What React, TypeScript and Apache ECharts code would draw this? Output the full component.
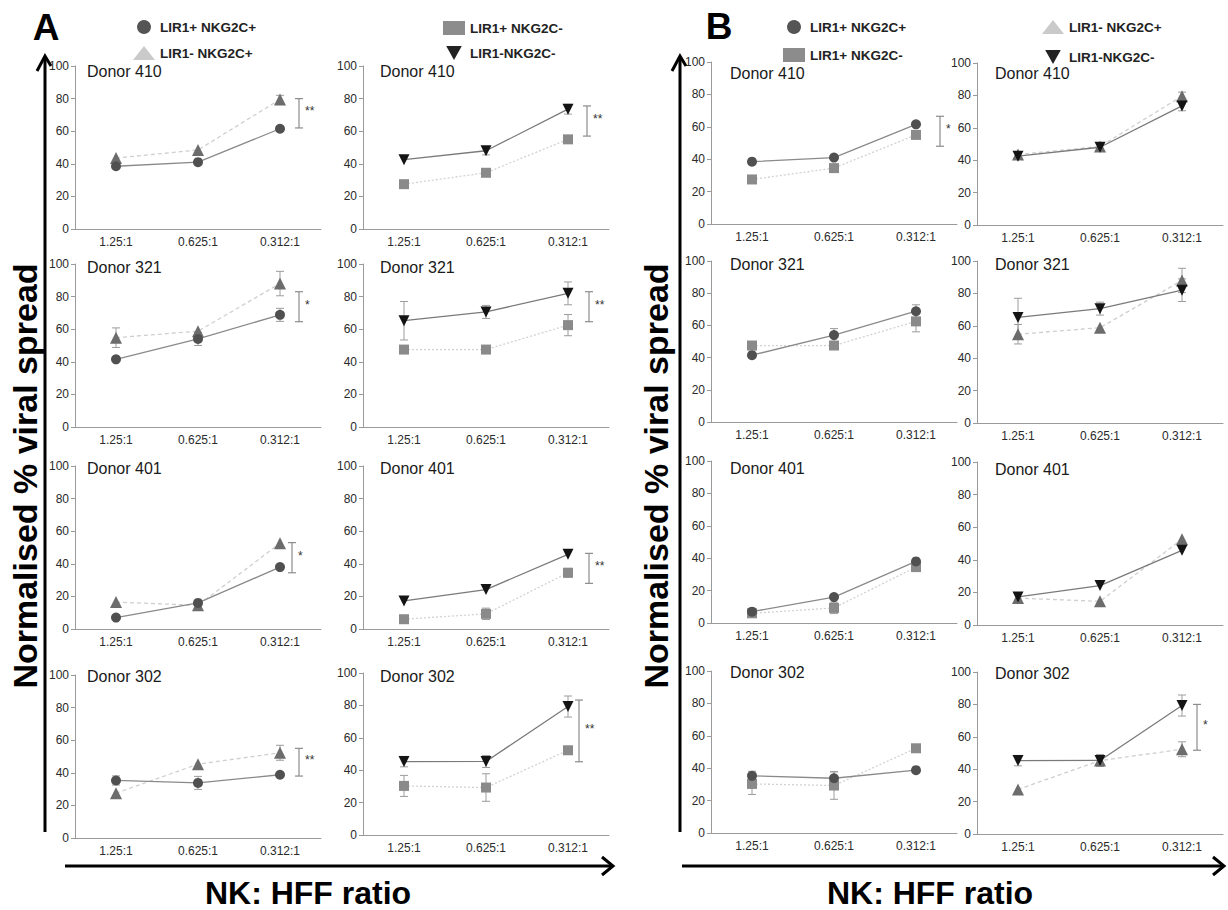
import React, { useEffect, useRef } from 'react';
import * as echarts from 'echarts';

// ---------------- data ----------------
const ratios = ['1.25:1', '0.625:1', '0.312:1'];
const donors = ['Donor 410', 'Donor 321', 'Donor 401', 'Donor 302'];

// rows = donors (410, 321, 401, 302), columns = ratios
const lir1PosNkg2cPos = [
  [38.5, 41, 61.5],
  [41.5, 54, 68.8],
  [7, 16, 38],
  [35.3, 33.8, 38.8],
];
const lir1PosNkg2cPosErr = [
  [0, 0, 0],
  [0, 4, 4],
  [0, 0, 0],
  [2.8, 4, 0],
];
const lir1NegNkg2cPos = [
  [43.5, 48.5, 79.5],
  [54.8, 58.8, 88],
  [16.5, 14.5, 52.6],
  [27.5, 45.3, 52.3],
];
const lir1NegNkg2cPosErr = [
  [0, 0, 2.5],
  [6, 0, 7.5],
  [0, 0, 0],
  [0, 0, 4.6],
];
const lir1PosNkg2cNeg = [
  [27.5, 34.5, 55],
  [47.5, 47.5, 62.5],
  [6, 9.3, 34.5],
  [30.3, 29.3, 52.3],
];
const lir1PosNkg2cNegErr = [
  [0, 0, 0],
  [0, 0, 6.5],
  [0, 3.5, 2.7],
  [6.5, 8.5, 0],
];
const lir1NegNkg2cNeg = [
  [42.5, 48, 73.5],
  [65.2, 70.6, 82],
  [17.2, 24.2, 45.8],
  [45.3, 45.4, 79.3],
];
const lir1NegNkg2cNegErr = [
  [0, 2.5, 3],
  [11.8, 4, 7],
  [0, 0, 0],
  [3.2, 3.7, 6.5],
];

// significance brackets per panel column: [low, high, label] or null
const sigA1: ([number, number, string] | null)[] = [[62, 80, '**'], [64.6, 83, '*'], [34.5, 53, '*'], [38, 55, '**']];
const sigA2: ([number, number, string] | null)[] = [[57, 75.5, '**'], [64.6, 83, '**'], [28, 46.4, '**'], [45.2, 83.3, '**']];
const sigB1: ([number, number, string] | null)[] = [[48, 66.5, '*'], null, null, null];
const sigB2: ([number, number, string] | null)[] = [null, null, null, [51.7, 80, '*']];

const yTicks = [0, 20, 40, 60, 80, 100];

// ---------------- styles / layout ----------------
const FONT = 'Liberation Sans, Arial, Helvetica, sans-serif';
const DOWN_TRI = 'path://M0,0L10,0L5,9Z';

const POPS: Record<string, any> = {
  pp: { name: 'LIR1+ NKG2C+', values: lir1PosNkg2cPos, err: lir1PosNkg2cPosErr, symbol: 'circle', size: 10, color: '#505050', line: '#8a8a8a', type: 'solid', legendIcon: 'circle', legendColor: '#555555' },
  mp: { name: 'LIR1- NKG2C+', values: lir1NegNkg2cPos, err: lir1NegNkg2cPosErr, symbol: 'triangle', size: 12, color: '#6c6c6c', line: '#cfcfcf', type: [4, 3], legendIcon: 'triangle', legendColor: '#cacaca' },
  pm: { name: 'LIR1+ NKG2C-', values: lir1PosNkg2cNeg, err: lir1PosNkg2cNegErr, symbol: 'rect', size: 10, color: '#8a8a8a', line: '#d2d2d2', type: [2, 2], legendIcon: 'rect', legendColor: '#8c8c8c' },
  mm: { name: 'LIR1-NKG2C-', values: lir1NegNkg2cNeg, err: lir1NegNkg2cNegErr, symbol: DOWN_TRI, size: 11, color: '#141414', line: '#7a7a7a', type: 'solid', legendIcon: DOWN_TRI, legendColor: '#222222' },
};

const COLS = [
  { left: 75, pops: ['mp', 'pp'], tops: [66, 264, 466, 675], heights: [163, 163, 163, 163], titleDx: 12, titleDy: [6, 4, 3, 2], sig: sigA1, sigDx: [19, 19, 12, 19] },
  { left: 363, pops: ['pm', 'mm'], tops: [66, 264, 466, 673], heights: [163, 163, 163, 162], titleDx: 17, titleDy: [6, 4, 3, 4], sig: sigA2, sigDx: [19, 21, 21, 11] },
  { left: 711, pops: ['pm', 'pp'], tops: [62, 261, 461, 671], heights: [162, 161, 162, 162], titleDx: 19, titleDy: [12, 4, 8, 2], sig: sigB1, sigDx: [24, 0, 0, 0] },
  { left: 977, pops: ['mp', 'mm'], tops: [63, 261, 462, 672], heights: [162, 162, 163, 162], titleDx: 18, titleDy: [11, 4, 8, 2], sig: sigB2, sigDx: [0, 0, 0, 15] },
];
const GRID_W = 246;

function errRender(params: any, api: any) {
  const c = api.value(0);
  const lo = api.coord([c, api.value(1)]);
  const hi = api.coord([c, api.value(2)]);
  const w = 4;
  const st = { stroke: '#9c9c9c', lineWidth: 1 };
  return {
    type: 'group',
    children: [
      { type: 'line', shape: { x1: lo[0], y1: lo[1], x2: hi[0], y2: hi[1] }, style: st },
      { type: 'line', shape: { x1: lo[0] - w, y1: lo[1], x2: lo[0] + w, y2: lo[1] }, style: st },
      { type: 'line', shape: { x1: hi[0] - w, y1: hi[1], x2: hi[0] + w, y2: hi[1] }, style: st },
    ],
  };
}

function makeSigRender(dx: number, label: string) {
  return (params: any, api: any) => {
    const lo = api.coord([api.value(0), api.value(1)]);
    const hi = api.coord([api.value(0), api.value(2)]);
    const x = lo[0] + dx;
    const w = 4;
    const st = { stroke: '#8c8c8c', lineWidth: 1.2 };
    return {
      type: 'group',
      children: [
        { type: 'line', shape: { x1: x, y1: lo[1], x2: x, y2: hi[1] }, style: st },
        { type: 'line', shape: { x1: x - w, y1: lo[1], x2: x + w, y2: lo[1] }, style: st },
        { type: 'line', shape: { x1: x - w, y1: hi[1], x2: x + w, y2: hi[1] }, style: st },
        {
          type: 'text',
          x: x + 6,
          y: (lo[1] + hi[1]) / 2 - 2,
          style: { text: label, fill: '#333', fontSize: 12, fontFamily: FONT, align: 'left', verticalAlign: 'middle' },
        },
      ],
    };
  };
}

function buildOption() {
  const grid: any[] = [];
  const xAxis: any[] = [];
  const yAxis: any[] = [];
  const series: any[] = [];
  const title: any[] = [];

  COLS.forEach((col) => {
    donors.forEach((donor, r) => {
      const gi = grid.length;
      grid.push({ left: col.left, top: col.tops[r], width: GRID_W, height: col.heights[r], containLabel: false });
      xAxis.push({
        type: 'category',
        gridIndex: gi,
        data: ratios,
        boundaryGap: true,
        axisLine: { lineStyle: { color: '#9a9a9a', width: 1 } },
        axisTick: { show: false },
        axisLabel: { color: '#2a2a2a', fontSize: 12, fontFamily: FONT, margin: 7 },
        splitLine: { show: false },
      });
      yAxis.push({
        type: 'value',
        gridIndex: gi,
        min: yTicks[0],
        max: yTicks[yTicks.length - 1],
        interval: yTicks[1] - yTicks[0],
        axisLine: { show: true, lineStyle: { color: '#9a9a9a', width: 1 } },
        axisTick: { show: true, length: 4, lineStyle: { color: '#9a9a9a' } },
        axisLabel: { color: '#2a2a2a', fontSize: 12, fontFamily: FONT, margin: 6 },
        splitLine: { show: false },
      });
      title.push({
        text: donor,
        left: col.left + col.titleDx,
        top: col.tops[r] + col.titleDy[r] - 9,
        padding: 0,
        textStyle: { fontSize: 16, fontWeight: 'normal', color: '#1a1a1a', fontFamily: FONT },
      });

      col.pops.forEach((pk, li) => {
        const p = POPS[pk];
        const errData: number[][] = [];
        p.values[r].forEach((v: number, i: number) => {
          const e = p.err[r][i];
          if (e > 0) errData.push([i, v - e, v + e]);
        });
        if (errData.length) {
          series.push({
            type: 'custom',
            name: p.name + ' error',
            xAxisIndex: gi,
            yAxisIndex: gi,
            renderItem: errRender,
            encode: { x: 0, y: [1, 2] },
            data: errData,
            z: 1,
            silent: true,
          });
        }
        series.push({
          type: 'line',
          name: p.name,
          xAxisIndex: gi,
          yAxisIndex: gi,
          data: p.values[r],
          symbol: p.symbol,
          symbolSize: p.size,
          showAllSymbol: true,
          itemStyle: { color: p.color, borderWidth: 0 },
          lineStyle: { color: p.line, width: 1.3, type: p.type },
          z: 3 + li,
        });
      });

      const sig = col.sig[r];
      if (sig) {
        series.push({
          type: 'custom',
          name: 'significance',
          xAxisIndex: gi,
          yAxisIndex: gi,
          renderItem: makeSigRender(col.sigDx[r], sig[2]),
          encode: { x: 0, y: [1, 2] },
          data: [[ratios.length - 1, sig[0], sig[1]]],
          clip: false,
          z: 2,
          silent: true,
        });
      }
    });
  });

  const legendText = { fontSize: 13.5, fontWeight: 'bold', color: '#222', fontFamily: FONT };
  const mkLegend = (left: number, top: number, gap: number, keys: string[]) => ({
    left,
    top,
    orient: 'vertical',
    itemGap: gap,
    itemWidth: 22,
    itemHeight: 14,
    padding: 0,
    selectedMode: false,
    textStyle: legendText,
    data: keys.map((k) => ({ name: POPS[k].name, icon: POPS[k].legendIcon, itemStyle: { color: POPS[k].legendColor } })),
  });

  const legend = [
    mkLegend(133, 20, 12, ['pp', 'mp']),
    mkLegend(443, 21, 11, ['pm', 'mm']),
    mkLegend(783, 20, 14, ['pp', 'pm']),
    mkLegend(1042, 20, 16, ['mp', 'mm']),
  ];

  const arrowStyle = { stroke: '#000', lineWidth: 3, fill: null };
  const bigFont = `bold 34px ${FONT}`;
  const graphic: any[] = [
    { type: 'text', x: 46, y: 27, style: { text: 'A', font: `bold 37px ${FONT}`, fill: '#000', align: 'center', verticalAlign: 'middle' } },
    { type: 'text', x: 719, y: 26, style: { text: 'B', font: `bold 37px ${FONT}`, fill: '#000', align: 'center', verticalAlign: 'middle' } },
    // vertical arrows
    { type: 'line', shape: { x1: 45, y1: 832, x2: 45, y2: 57 }, style: arrowStyle },
    { type: 'polyline', shape: { points: [[37, 71], [45, 56], [51, 66]] }, style: arrowStyle },
    { type: 'line', shape: { x1: 680, y1: 832, x2: 680, y2: 57 }, style: arrowStyle },
    { type: 'polyline', shape: { points: [[672, 71], [680, 56], [686, 66]] }, style: arrowStyle },
    // horizontal arrows
    { type: 'line', shape: { x1: 65, y1: 866, x2: 612, y2: 866 }, style: arrowStyle },
    { type: 'polyline', shape: { points: [[602, 857], [613, 866], [602, 875]] }, style: arrowStyle },
    { type: 'line', shape: { x1: 682, y1: 866, x2: 1223, y2: 866 }, style: arrowStyle },
    { type: 'polyline', shape: { points: [[1213, 857], [1224, 866], [1213, 875]] }, style: arrowStyle },
    // axis titles
    { type: 'text', x: 25, y: 476, rotation: Math.PI / 2, style: { text: 'Normalised % viral spread', font: bigFont, fill: '#000', align: 'center', verticalAlign: 'middle' } },
    { type: 'text', x: 656, y: 476, rotation: Math.PI / 2, style: { text: 'Normalised % viral spread', font: bigFont, fill: '#000', align: 'center', verticalAlign: 'middle' } },
    { type: 'text', x: 308, y: 893, style: { text: 'NK: HFF ratio', font: `bold 32px ${FONT}`, fill: '#000', align: 'center', verticalAlign: 'middle' } },
    { type: 'text', x: 930, y: 893, style: { text: 'NK: HFF ratio', font: `bold 32px ${FONT}`, fill: '#000', align: 'center', verticalAlign: 'middle' } },
  ];

  return {
    animation: false,
    backgroundColor: '#ffffff',
    textStyle: { fontFamily: FONT },
    title,
    legend,
    grid,
    xAxis,
    yAxis,
    series,
    graphic,
  };
}

export default function App() {
  const ref = useRef<HTMLDivElement>(null);
  useEffect(() => {
    if (!ref.current) return;
    const chart = echarts.init(ref.current, undefined, { renderer: 'svg' });
    chart.setOption(buildOption() as any);
    return () => chart.dispose();
  }, []);
  return (
    <div
      ref={ref}
      style={{ position: 'fixed', left: 0, top: 0, width: 1228, height: 910, background: '#fff' }}
    />
  );
}
